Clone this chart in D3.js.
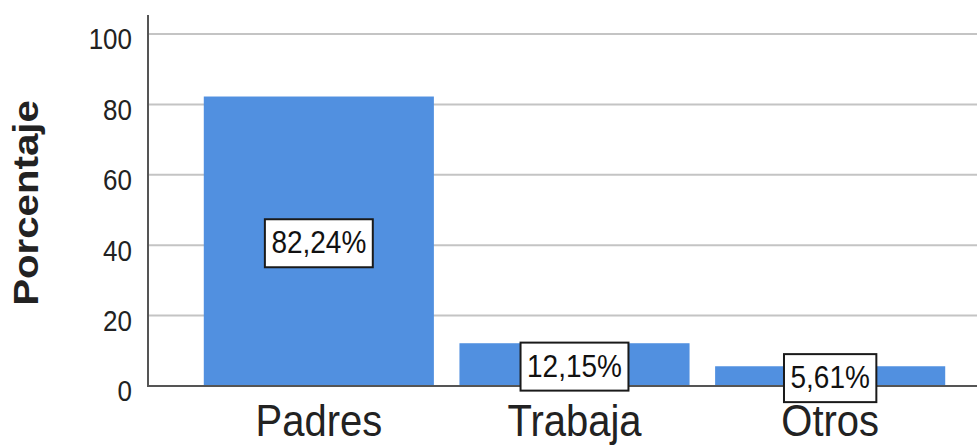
<!DOCTYPE html>
<html>
<head>
<meta charset="utf-8">
<script src="https://cdn.jsdelivr.net/npm/d3@7"></script>
<style>
  html, body { margin: 0; padding: 0; background: #fff; }
  svg { display: block; }
  text { font-family: Arial, "Liberation Sans", sans-serif; }
</style>
</head>
<body>
<svg id="chart" width="977" height="446"></svg>
<script>
const categories = ["Padres", "Trabaja", "Otros"];
const values = [82.24, 12.15, 5.61];
const valueLabels = ["82,24%", "12,15%", "5,61%"];
const yTicks = [0, 20, 40, 60, 80, 100];
const yTitle = "Porcentaje";

const W = 977, H = 446;
const sy = 1.15; // vertical text stretch of the original
const svg = d3.select("#chart");

const x = d3.scaleBand().domain(categories).range([191, 958]).paddingInner(0.1).paddingOuter(0.05);
const y = d3.scaleLinear().domain([0, 100]).range([386, 34]);
const axisX = 148;

// gridlines
svg.append("g").selectAll("line").data(yTicks.filter(d => d > 0)).join("line")
  .attr("x1", axisX).attr("x2", W)
  .attr("y1", d => y(d)).attr("y2", d => y(d))
  .attr("stroke", "#c4c4c4").attr("stroke-width", 2);

// bars
svg.append("g").selectAll("rect").data(values).join("rect")
  .attr("x", (d, i) => x(categories[i]))
  .attr("width", x.bandwidth())
  .attr("y", d => y(d))
  .attr("height", d => y(0) - y(d))
  .attr("fill", "#5190e0");

// axes lines
svg.append("line").attr("x1", axisX).attr("x2", axisX).attr("y1", 15).attr("y2", y(0))
  .attr("stroke", "#555").attr("stroke-width", 2);
svg.append("line").attr("x1", axisX - 1).attr("x2", W).attr("y1", y(0)).attr("y2", y(0))
  .attr("stroke", "#555").attr("stroke-width", 2);

// y tick labels
svg.append("g").selectAll("text").data(yTicks).join("text")
  .attr("transform", d => `translate(132,${y(d) + 5}) scale(1,${sy})`)
  .attr("text-anchor", "end")
  .attr("dy", "0.35em")
  .attr("font-size", 26)
  .attr("fill", "#222")
  .text(d => d);

// y title
svg.append("text")
  .attr("transform", `translate(38,203) rotate(-90) scale(${sy},1)`)
  .attr("text-anchor", "middle")
  .attr("font-size", 35)
  .attr("font-weight", "bold")
  .attr("fill", "#222")
  .text(yTitle);

// category labels
svg.append("g").selectAll("text").data(categories).join("text")
  .attr("transform", d => `translate(${x(d) + x.bandwidth() / 2},436) scale(1,1.12)`)
  .attr("text-anchor", "middle")
  .attr("font-size", 40)
  .attr("fill", "#222")
  .text(d => d);

// value label boxes
const lg = svg.append("g").selectAll("g").data(values).join("g")
  .attr("transform", (d, i) => `translate(${x(categories[i]) + x.bandwidth() / 2},${(y(d) + y(0)) / 2 + 2})`);
lg.each(function(d, i) {
  const g = d3.select(this);
  const rect = g.append("rect");
  const t = g.append("text")
    .attr("transform", `translate(0,10) scale(1,${sy})`)
    .attr("text-anchor", "middle")
    .attr("font-size", 28)
    .attr("fill", "#111")
    .text(valueLabels[i]);
  const w = t.node().getComputedTextLength() + 13;
  rect.attr("x", -w / 2).attr("y", -24).attr("width", w).attr("height", 48)
    .attr("fill", "#fff").attr("stroke", "#1a1a1a").attr("stroke-width", 2);
});
</script>
</body>
</html>
